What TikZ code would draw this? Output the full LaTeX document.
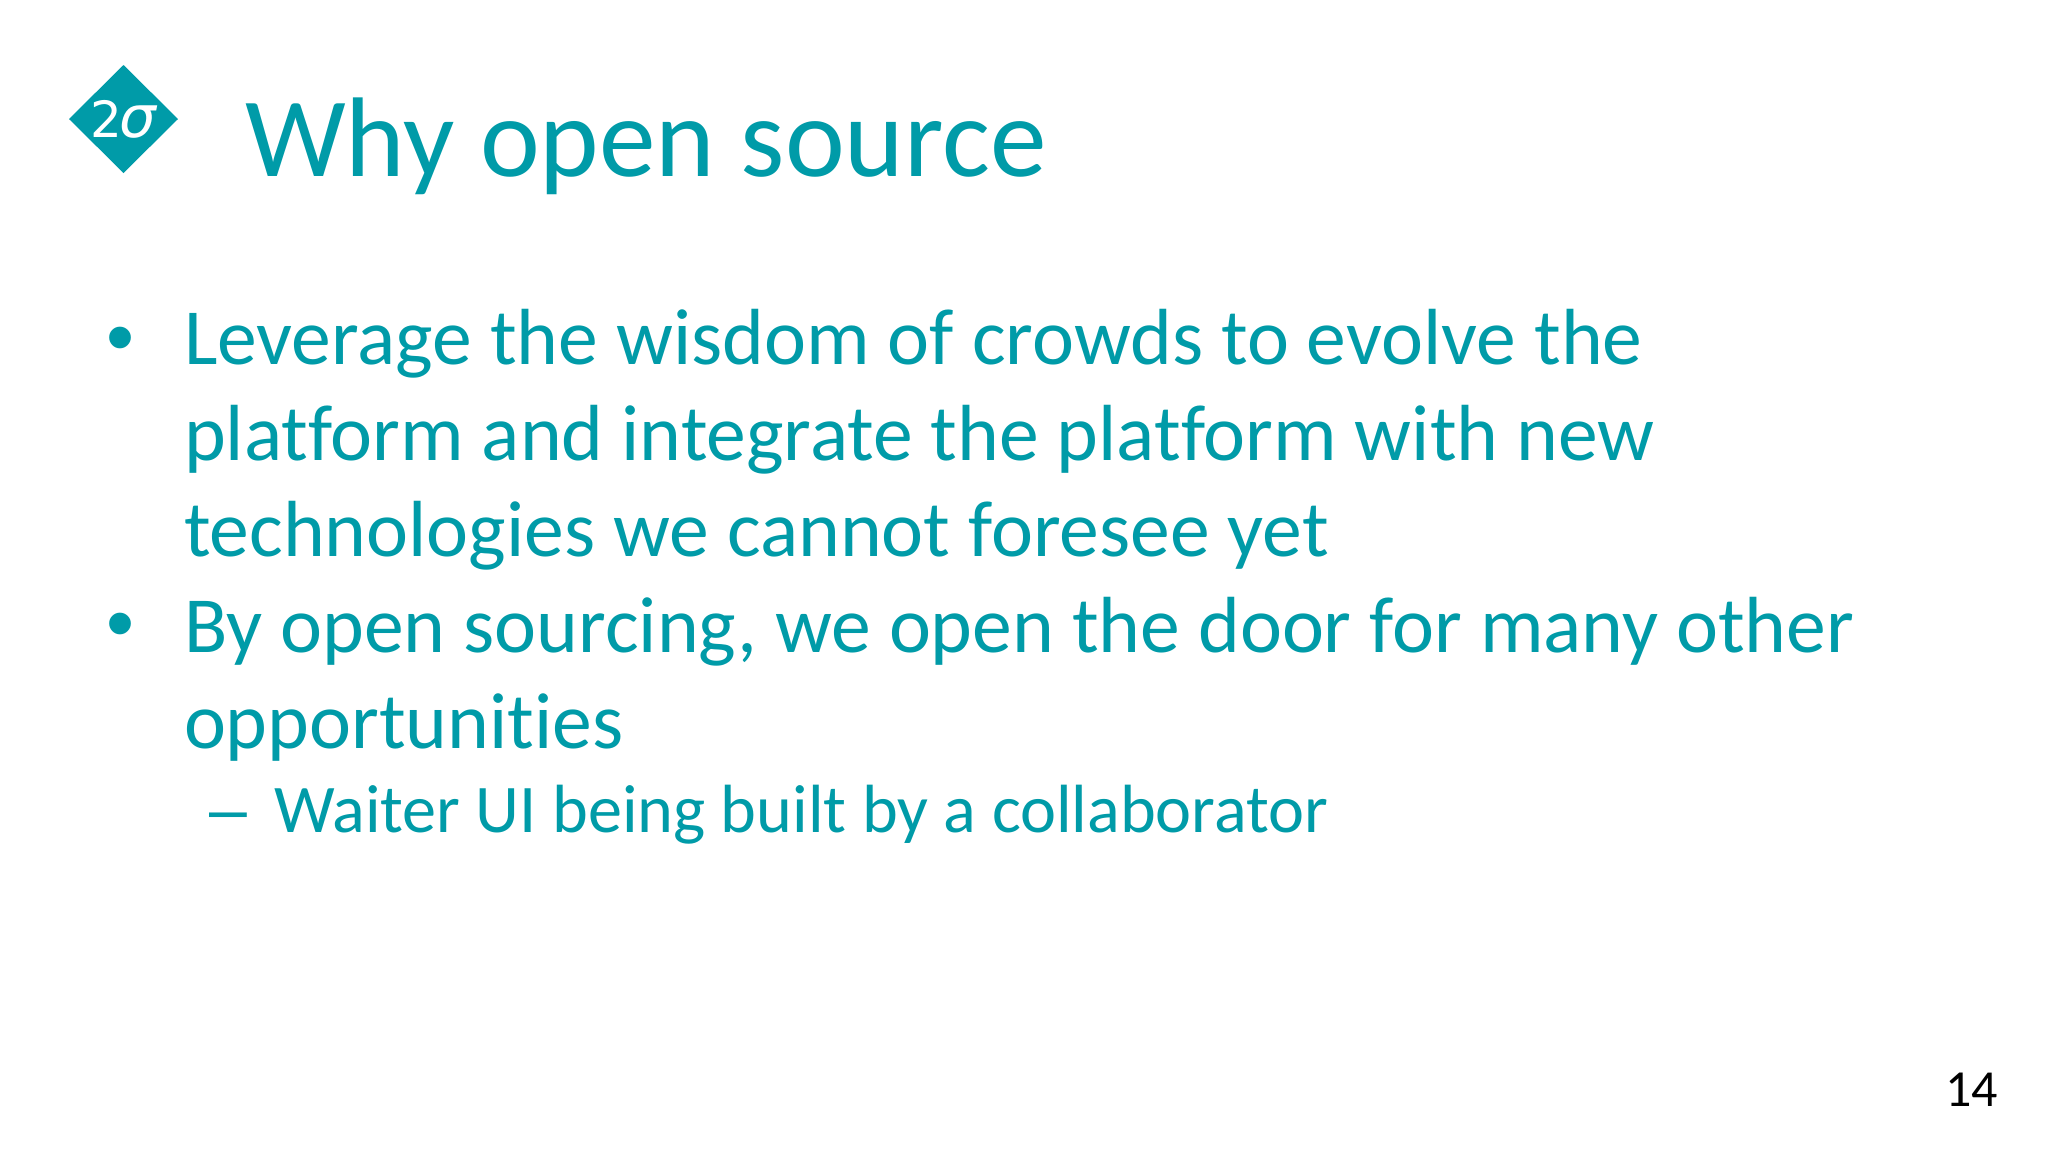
\documentclass[tikz,border=0pt]{standalone}
\usepackage{fontspec}
\setmainfont{Carlito}[RawFeature=-liga]
\newfontfamily\logofont{DejaVu Sans}
\newfontfamily\sigmafont{DejaVu Sans}
\newfontfamily\bulletfont{Liberation Sans}
\definecolor{teal2s}{RGB}{0,155,168}
\newcommand{\fs}[1]{\fontsize{#1pt}{#1pt}\selectfont}
\tikzset{
 x=1pt,y=-1pt,
 txt/.style={anchor=base west,inner sep=0pt,outer sep=0pt,text=teal2s},
 titletxt/.style={txt,font=\fs{113.3}},
 bodytxt/.style={txt,font=\fs{79.6}},
 subtxt/.style={txt,font=\fs{68.2}},
 bullettxt/.style={txt,font=\bulletfont\fs{80}},
 dashtxt/.style={txt,font=\bulletfont\fs{68}},
}
\begin{document}
\begin{tikzpicture}
\useasboundingbox (0,0) rectangle (2048,1152);
\fill[white] (0,0) rectangle (2048,1152);
\fill[teal2s] (69,119) -- (123.5,65) -- (178,119) -- (123.5,173) -- cycle;
\node[anchor=base west,inner sep=0pt,text=white] (logo) at (90,137) {{\logofont\fs{50}2}\kern-3pt{\sigmafont\itshape\fs{58}σ}};
\node[titletxt] (title) at (245,176) {Why open source};
\node[bullettxt] (b1) at (106,364) {•};
\node[bodytxt] (l1) at (184,364.5) {Leverage the wisdom of crowds to evolve the};
\node[bodytxt] (l2) at (184,460.5) {platform and integrate the platform with new};
\node[bodytxt] (l3) at (184,556) {technologies we cannot foresee yet};
\node[bullettxt] (b2) at (106,650) {•};
\node[bodytxt] (l4) at (184,652) {By open sourcing, we open the door for many other};
\node[bodytxt] (l5) at (184,748) {opportunities};
\node[dashtxt] (d) at (209,832) {–};
\node[subtxt] (l6) at (274,832) {Waiter UI being built by a collaborator};
\node[anchor=base east,inner sep=0pt,text=black,font=\fs{52}] (pg) at (1998,1106) {14};
\end{tikzpicture}
\end{document}
